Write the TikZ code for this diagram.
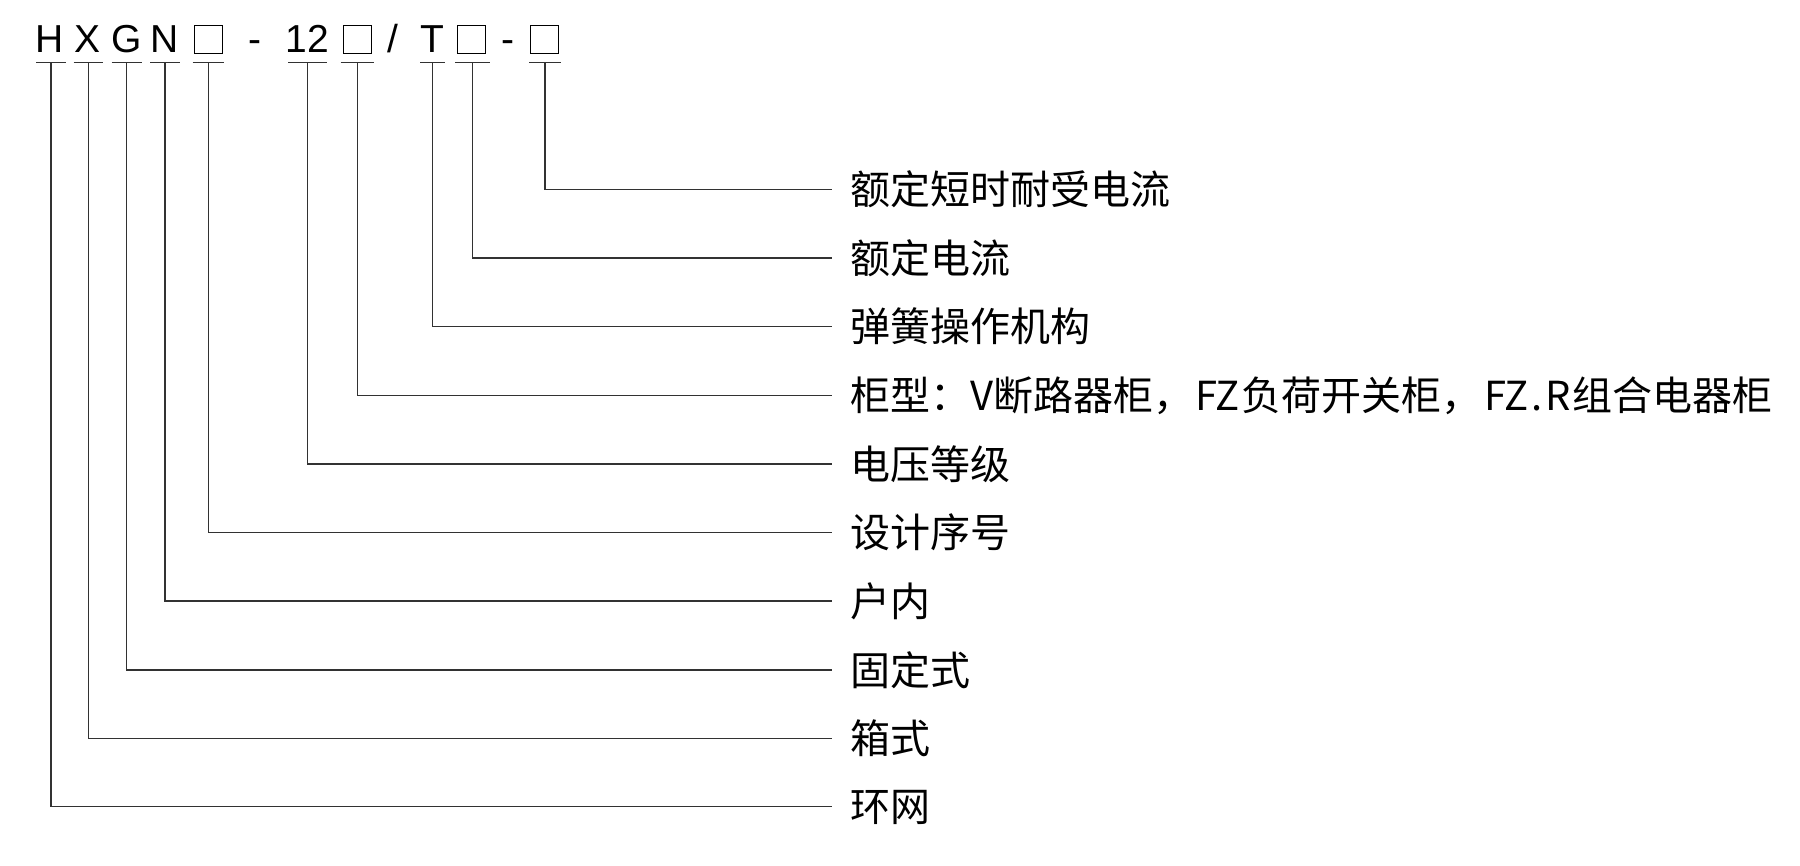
\documentclass[tikz,border=0pt]{standalone}
\usepackage{fontspec}
\setmainfont{Liberation Sans}
\newfontfamily\cjk[Scale=1.0256]{Noto Sans CJK SC}
\definecolor{linegray}{RGB}{50,50,50}
\tikzset{
  lead/.style={line width=1.5pt, draw=linegray},
  tick/.style={line width=1.5pt, draw=linegray},
  topch/.style={anchor=base, inner sep=0pt, font=\fontsize{39}{45}\selectfont},
  sq/.style={draw=black, line width=1.3pt, minimum size=28pt, inner sep=0pt},
  lbl/.style={anchor=west, inner xsep=18pt, inner ysep=0pt, text height=35.2pt, text depth=4.8pt, font=\fontsize{39}{45}\selectfont},
}
\begin{document}
\begin{tikzpicture}[x=1pt,y=-1pt]
\useasboundingbox (0,0) rectangle (1800,866);
% top code
\node[topch] (tH) at (50,52.7) {H};
\node[topch] (tX) at (88,52.7) {X};
\node[topch] (tG) at (126.7,52.7) {G};
\node[topch] (tN) at (164.7,52.7) {N};
\node[sq] (tB1) at (208.6,39.5) {};
\node[topch] (tD1) at (255,52.7) {-};
\node[topch] (t12) at (307.3,52.7) {12};
\node[sq] (tB2) at (357.7,39.5) {};
\node[topch] (tS) at (393.3,52.7) {/};
\node[topch] (tT) at (432.5,52.7) {T};
\node[sq] (tB3) at (471.8,39.5) {};
\node[topch] (tD2) at (508,52.7) {-};
\node[sq] (tB4) at (544.7,39.5) {};
% underline tick points
\coordinate (uH) at (51,62.3);
\coordinate (uX) at (88.3,62.3);
\coordinate (uG) at (126.7,62.3);
\coordinate (uN) at (165,62.3);
\coordinate (uB1) at (208.3,62.3);
\coordinate (u12) at (307.3,62.3);
\coordinate (uB2) at (357.3,62.3);
\coordinate (uT) at (432.7,62.3);
\coordinate (uB3) at (472.3,62.3);
\coordinate (uB4) at (545,62.3);
% underlines
\draw[tick] (uH) ++(-14.8,0) -- ++(29.6,0);
\draw[tick] (uX) ++(-14.8,0) -- ++(29.6,0);
\draw[tick] (uG) ++(-15,0) -- ++(30,0);
\draw[tick] (uN) ++(-14.8,0) -- ++(29.6,0);
\draw[tick] (uB1) ++(-15.8,0) -- ++(31.6,0);
\draw[tick] (u12) ++(-19.2,0) -- ++(38.4,0);
\draw[tick] (uB2) ++(-16.6,0) -- ++(33.2,0);
\draw[tick] (uT) ++(-12.6,0) -- ++(25.2,0);
\draw[tick] (uB3) ++(-17.2,0) -- ++(34.4,0);
\draw[tick] (uB4) ++(-15.7,0) -- ++(31.4,0);
% labels
\node[lbl] (l0) at (832,189.3) {\cjk 额定短时耐受电流};
\node[lbl] (l1) at (832,257.95) {\cjk 额定电流};
\node[lbl] (l2) at (832,326.6) {\cjk 弹簧操作机构};
\node[lbl] (l3) at (832,395.6) {\cjk{柜型：}V\cjk{断路器柜，}\kern2pt FZ\kern1pt\cjk{负荷开关柜，}\kern3pt FZ\kern3pt.\kern3pt R\kern1pt\cjk{组合电器柜}};
\node[lbl] (l4) at (832,463.9) {\cjk 电压等级};
\node[lbl] (l5) at (832,532.55) {\cjk 设计序号};
\node[lbl] (l6) at (832,601.2) {\cjk 户内};
\node[lbl] (l7) at (832,669.85) {\cjk 固定式};
\node[lbl] (l8) at (832,738.5) {\cjk 箱式};
\node[lbl] (l9) at (832,806.7) {\cjk 环网};
% leaders
\draw[lead] (uB4) |- (l0.west);
\draw[lead] (uB3) |- (l1.west);
\draw[lead] (uT) |- (l2.west);
\draw[lead] (uB2) |- (l3.west);
\draw[lead] (u12) |- (l4.west);
\draw[lead] (uB1) |- (l5.west);
\draw[lead] (uN) |- (l6.west);
\draw[lead] (uG) |- (l7.west);
\draw[lead] (uX) |- (l8.west);
\draw[lead] (uH) |- (l9.west);
\end{tikzpicture}
\end{document}
